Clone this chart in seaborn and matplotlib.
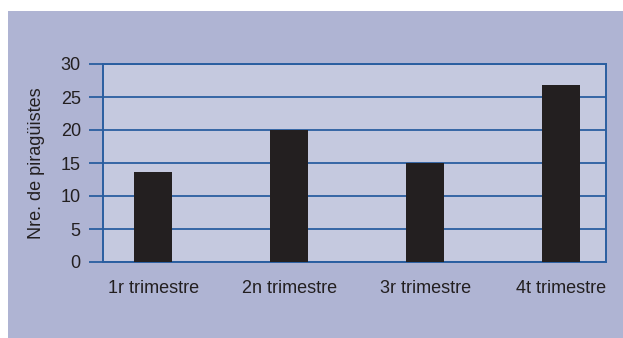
import matplotlib
matplotlib.use("Agg")
import matplotlib.pyplot as plt
import seaborn as sns
import pandas as pd
from matplotlib.patches import Rectangle

categories = ["1r trimestre", "2n trimestre", "3r trimestre", "4t trimestre"]
values = [13.7, 20, 15, 26.8]
y_ticks = [0, 5, 10, 15, 20, 25, 30]
y_label = "Nre. de piragüistes"

df = pd.DataFrame({"cat": categories, "val": values})

sns.set_theme(style="white")
plt.rcParams['font.family'] = ['Liberation Sans', 'DejaVu Sans']

W, H = 623, 338
fig = plt.figure(figsize=(W / 100, H / 100), dpi=100)
fig.patch.set_facecolor("white")
fig.patches.append(Rectangle((8 / W, 0), 1, 1 - 11 / H, transform=fig.transFigure,
                             facecolor="#AFB4D3", edgecolor="none", zorder=-10))

ax = fig.add_axes([103 / W, 1 - 262 / H, (606 - 103) / W, (262 - 64) / H])
ax.set_facecolor("#C5C9DF")

sns.barplot(data=df, x="cat", y="val", ax=ax, color="#231F20", width=0.28,
            saturation=1, zorder=3, edgecolor="none", linewidth=0)

blue = "#2A5EA0"
ax.set_ylim(0, 30)
ax.set_xlim(-0.37, 3.33)
ax.set_yticks(y_ticks)
ax.yaxis.grid(True, color=blue, linewidth=1.3, zorder=1)
ax.set_axisbelow(True)
for s in ax.spines.values():
    s.set_color(blue)
    s.set_linewidth(1.4)
    s.set_visible(True)

ax.tick_params(axis="y", length=10, width=1.3, color=blue, pad=6,
               labelsize=13, labelcolor="#231F20", left=True)
ax.tick_params(axis="x", length=0, pad=13, labelsize=13, labelcolor="#231F20")
ax.set_xlabel("")
ax.set_ylabel(y_label, fontsize=13, color="#231F20", labelpad=11)

fig.savefig("out.png", dpi=100, facecolor=fig.get_facecolor())
